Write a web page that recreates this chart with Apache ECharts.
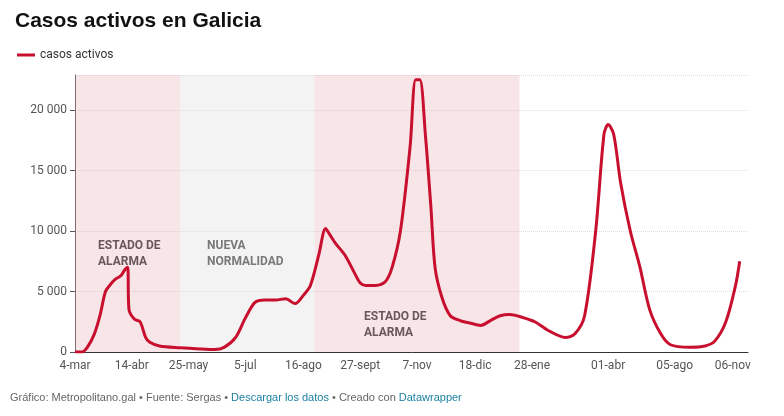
<!DOCTYPE html><html><head><meta charset="utf-8"><script src="https://cdn.jsdelivr.net/npm/echarts@6/dist/echarts.min.js"></script>
<style>body{margin:0}#c{width:784px;height:416px}</style></head><body><div id="c"></div><script>
const days=[0,5,9,14,18,22,25,29,33,36,38,39,43,47,51,54,61,76,90,101,108,116,123,130,137,145,152,159,165,170,176,181,184,188,195,202,206,210,217,224,229,235,242,246,249,253,257,260,265,271,278,285,293,300,307,314,322,332,343,354,361,368,376,382,385,389,394,401,408,415,423,430,444,455,462,470,477,480];
const values=[0,0,400,1500,3000,5000,5500,6000,6300,6800,7000,3500,2700,2500,1200,800,500,350,250,200,400,1200,2800,4100,4300,4300,4400,4000,4700,5500,8000,10200,9700,9000,8000,6500,5700,5500,5500,5800,7000,10000,17000,22500,22500,18000,12000,7000,4500,3000,2600,2400,2200,2600,3000,3100,2900,2500,1700,1200,1500,3000,10000,18000,18800,18000,14000,10000,7000,3500,1500,600,400,500,900,2500,5500,7500];
const tickDays=[0,41,82,123,165,206,247,289,330,385,433,475];
const tickLabels=['4-mar','14-abr','25-may','5-jul','16-ago','27-sept','7-nov','18-dic','28-ene','01-abr','05-ago','06-nov'];
const regions=[[0,76,'rgba(230,170,178,0.3)'],[76,173,'rgba(225,225,225,0.4)'],[173,321,'rgba(230,170,178,0.3)']];
const F='Roboto';
const c=echarts.init(document.getElementById('c'));
c.setOption({animation:false,textStyle:{fontFamily:F},
title:{text:'Casos activos en Galicia',left:10,top:6,textStyle:{fontSize:21,fontWeight:'bold',color:'#111',fontFamily:'Liberation Sans'}},
legend:{left:12,top:44,icon:'rect',itemWidth:18,itemHeight:3,textStyle:{fontSize:12,color:'#333'}},
grid:{left:75,right:36,top:75,bottom:64},
xAxis:{type:'value',min:0,max:486,splitLine:{show:false},axisTick:{show:false},axisLine:{lineStyle:{color:'#333'}},
 axisLabel:{customValues:tickDays,formatter:v=>tickLabels[tickDays.indexOf(v)]||'',color:'#555',fontSize:12}},
yAxis:{type:'value',min:0,max:22900,interval:5000,axisLabel:{showMaxLabel:false,color:'#555',fontSize:12,formatter:v=>v>=1000?String(v).replace(/(\d+)(\d{3})$/,'$1 $2'):v},
 splitLine:{lineStyle:{color:'#ddd',type:'dotted'}}},
graphic:[
 {type:'text',left:98,top:238,style:{text:'ESTADO DE\nALARMA',fontSize:12,fontWeight:'bold',fill:'#333',align:'center',lineHeight:16,fontFamily:F}},
 {type:'text',left:207,top:238,style:{text:'NUEVA\nNORMALIDAD',fontSize:12,fontWeight:'bold',fill:'#333',align:'center',lineHeight:16,fontFamily:F}},
 {type:'text',left:364,top:309,style:{text:'ESTADO DE\nALARMA',fontSize:12,fontWeight:'bold',fill:'#333',align:'center',lineHeight:16,fontFamily:F}},
 {type:'text',left:10,top:392,style:{text:'{g|Gráfico: Metropolitano.gal • Fuente: Sergas • }{b|Descargar los datos}{g| • Creado con }{b|Datawrapper}',fontSize:11,fontFamily:F,rich:{g:{fill:'#666',fontSize:11},b:{fill:'#1d81a2',fontSize:11}}}}],
series:[{name:'casos activos',type:'line',data:days.map((d,i)=>[d,values[i]]),smooth:0.3,showSymbol:false,lineStyle:{color:'#c8102e',width:3},itemStyle:{color:'#c8102e'},
 markArea:{silent:true,data:regions.map(r=>[{xAxis:r[0],yAxis:0,itemStyle:{color:r[2]}},{xAxis:r[1],yAxis:22900}])}}]});
</script></body></html>
